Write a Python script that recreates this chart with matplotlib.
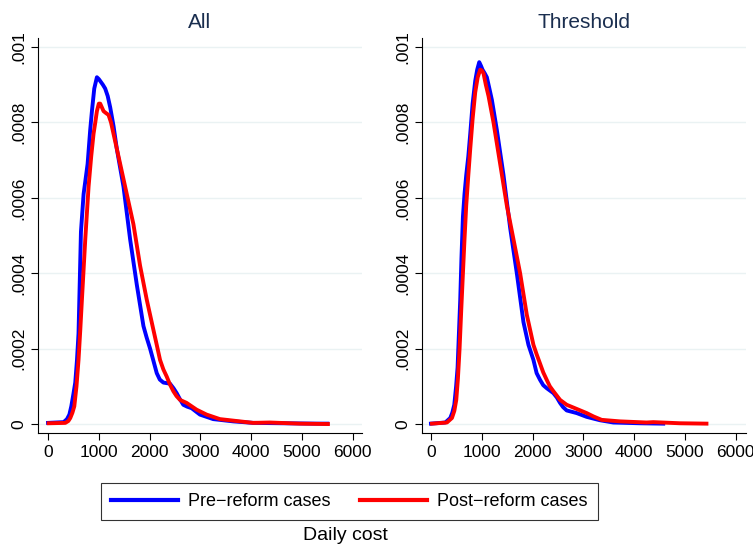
import matplotlib.pyplot as plt
import numpy as np

plt.rcParams['font.family'] = ['Liberation Sans', 'DejaVu Sans']

# All cases
all_pre_x = [0, 307, 373, 420, 458, 500, 536, 570, 600, 625, 648, 700, 779, 830, 864, 910, 962, 1000, 1027, 1080,
             1125, 1175, 1224, 1290, 1354, 1485, 1616, 1747, 1878, 1940, 2009, 2070, 2140, 2200, 2270, 2401,
             2470, 2532, 2600, 2663, 2740, 2827, 2990, 3252, 3645, 4037, 4626, 5280, 5500]
all_pre_y = [0.000003, 0.000005, 0.000013, 0.000025, 0.000047, 0.00008, 0.00011, 0.00017, 0.00024, 0.00038,
             0.00051, 0.00061, 0.00069, 0.00078, 0.00083, 0.00089, 0.00092, 0.000915, 0.00091, 0.0009,
             0.00089, 0.00087, 0.00084, 0.00079, 0.00073, 0.00063, 0.00049, 0.00037, 0.00026, 0.00023,
             0.00020, 0.00017, 0.000135, 0.000118, 0.00011, 0.000107, 0.000095, 0.000082, 0.000065,
             0.000051, 0.000046, 0.000042, 0.000025, 0.000013, 0.000007, 0.000003, 0.000002, 0.000001,
             0.000001]
all_post_x = [13, 340, 400, 438, 480, 517, 560, 600, 635, 667, 700, 733, 798, 850, 896, 930, 962, 1000, 1027, 1060,
              1093, 1140, 1191, 1240, 1289, 1420, 1550, 1681, 1812, 1943, 2074, 2140, 2205, 2270, 2336, 2400,
              2467, 2530, 2598, 2728, 2925, 3121, 3383, 3776, 4037, 4364, 4953, 5509]
all_post_y = [0.000002, 0.000003, 0.000008, 0.000016, 0.00003, 0.000047, 0.0001, 0.00017, 0.00025, 0.00033,
              0.00041, 0.00049, 0.00063, 0.00071, 0.00077, 0.0008, 0.00083, 0.00085, 0.00085, 0.00084,
              0.00083, 0.000825, 0.00082, 0.0008, 0.00077, 0.00069, 0.00061, 0.00053, 0.00042, 0.00033,
              0.00025, 0.00021, 0.00017, 0.000145, 0.000126, 0.000105, 0.000087, 0.000074, 0.000064,
              0.000056, 0.000038, 0.000025, 0.000013, 0.000007, 0.000003, 0.000004, 0.000001, 0.0]

# Threshold cases
thr_pre_x = [0, 282, 380, 420, 459, 495, 524, 550, 576, 600, 629, 660, 694, 735, 773, 820, 871, 910, 950, 985, 1015,
             1060, 1100, 1150, 1199, 1297, 1428, 1559, 1690, 1821, 1919, 2017, 2080, 2148, 2210, 2279, 2410,
             2480, 2541, 2600, 2672, 2869, 3065, 3327, 3589, 4113, 4572]
thr_pre_y = [0.000001, 0.000004, 0.000016, 0.00003, 0.000051, 0.0001, 0.00015, 0.00024, 0.00033, 0.00044,
             0.00055, 0.00061, 0.00066, 0.00071, 0.00077, 0.00085, 0.00091, 0.00094, 0.00096, 0.00095,
             0.00094, 0.00093, 0.00092, 0.00089, 0.00086, 0.00078, 0.00066, 0.00052, 0.00040, 0.00027,
             0.00021, 0.00017, 0.000135, 0.000117, 0.000103, 0.000095, 0.000082, 0.00007, 0.000056,
             0.000045, 0.000036, 0.000029, 0.000019, 0.00001, 0.000004, 0.000002, 0.000001]
thr_post_x = [20, 314, 413, 460, 498, 530, 563, 595, 629, 660, 694, 735, 773, 820, 871, 920, 969, 1000, 1035, 1080,
              1133, 1231, 1362, 1493, 1624, 1755, 1886, 2017, 2080, 2148, 2210, 2279, 2340, 2410, 2541, 2672,
              2869, 3065, 3200, 3360, 3720, 4244, 4375, 4899, 5423]
thr_post_y = [0.000001, 0.000004, 0.000016, 0.000035, 0.000064, 0.00012, 0.0002, 0.0003, 0.0004, 0.00049,
              0.00058, 0.00066, 0.00073, 0.00081, 0.00088, 0.00092, 0.00094, 0.000938, 0.00093, 0.0009,
              0.00087, 0.0008, 0.00069, 0.00058, 0.00049, 0.0004, 0.00029, 0.00021, 0.000185, 0.00016,
              0.000137, 0.000117, 0.0001, 0.000087, 0.000064, 0.000051, 0.00004, 0.000029, 0.00002,
              0.000011, 0.000007, 0.000004, 0.000005, 0.000002, 0.000001]

panels = [("All", all_pre_x, all_pre_y, all_post_x, all_post_y),
          ("Threshold", thr_pre_x, thr_pre_y, thr_post_x, thr_post_y)]

xticks = [0, 1000, 2000, 3000, 4000, 5000, 6000]
yticks = [0, 0.0002, 0.0004, 0.0006, 0.0008, 0.001]
ylabels = ["0", ".0002", ".0004", ".0006", ".0008", ".001"]

fig = plt.figure(figsize=(7.53, 5.44), dpi=100)
axes = [fig.add_axes([0.0505, 0.204, 0.430, 0.726]),
        fig.add_axes([0.5604, 0.204, 0.430, 0.726])]
xlims = [(-197, 6177), (-177, 6197)]

for ax, (title, px, py, qx, qy), xl in zip(axes, panels, xlims):
    for y in yticks:
        ax.axhline(y, color='#eaf2f3', lw=1, zorder=0)
    l1, = ax.plot(px, py, color='#0000ff', lw=2.8, solid_joinstyle='round')
    l2, = ax.plot(qx, qy, color='#ff0000', lw=2.8, solid_joinstyle='round')
    ax.set_xlim(*xl)
    ax.set_ylim(-0.0000239, 0.0010239)
    ax.set_xticks(xticks)
    ax.set_yticks(yticks)
    ax.set_yticklabels(ylabels, rotation=90, va='center')
    ax.tick_params(labelsize=12.5, length=5, width=0.8, color='black')
    ax.spines['top'].set_visible(False)
    ax.spines['right'].set_visible(False)
    ax.set_title(title, fontsize=15, color='#1a2e4f', pad=7)

leg = fig.legend([l1, l2], ['Pre\u2212reform cases', 'Post\u2212reform cases'], loc='center',
                 bbox_to_anchor=(0.464, 0.078), ncol=2, fontsize=13, frameon=True, fancybox=False,
                 edgecolor='black', handlelength=3.7, handletextpad=0.6, columnspacing=1.6,
                 borderpad=0.55, borderaxespad=0)
leg.get_frame().set_linewidth(0.8)
for h in leg.get_lines():
    h.set_linewidth(3)
fig.text(0.459, 0.0165, 'Daily cost', ha='center', va='center', fontsize=14)

fig.savefig('out.png', dpi=100)
